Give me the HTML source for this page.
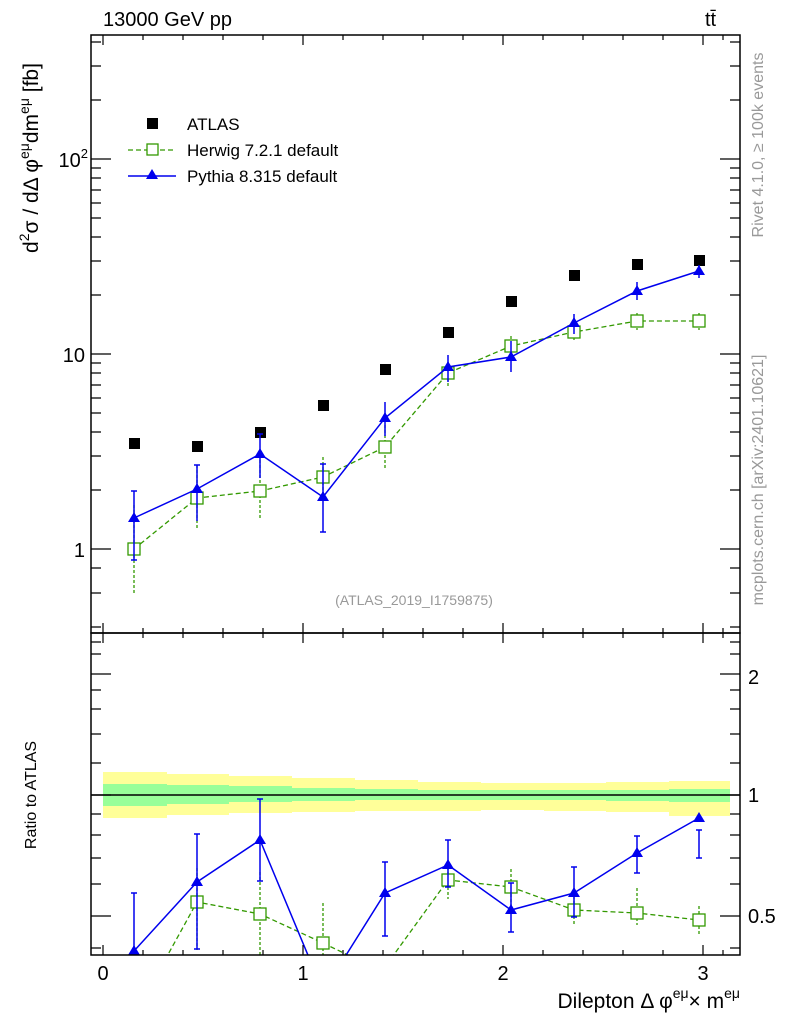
<!DOCTYPE html><html><head><style>body{margin:0;background:#fff}svg{display:block}text{font-family:"Liberation Sans",sans-serif}</style></head><body>
<svg width="786" height="1024" xmlns="http://www.w3.org/2000/svg">
<defs><clipPath id="cr"><rect x="91" y="634" width="649" height="321"/></clipPath><clipPath id="cm"><rect x="91" y="35" width="649" height="598"/></clipPath></defs>
<text x="103" y="26" font-size="20">13000 GeV pp</text>
<text x="705" y="26" font-size="20">tt̄</text>
<g clip-path="url(#cr)">
<path d="M103,772H167V774H229V776H292V778H355V780H418V782H481V783H544V783H606V782H669V781H730V816H669V812H606V811H544V810H481V811H418V811H355V812H292V813H229V815H167V818H103Z" fill="#ffff99"/>
<path d="M103,784H167V785H229V786H292V788H355V789H418V790H481V790H544V790H606V790H669V789H730V802H669V801H606V800H544V800H481V800H418V800H355V801H292V802H229V804H167V806H103Z" fill="#99ff99"/>
<line x1="91" y1="795" x2="740" y2="795" stroke="#000" stroke-width="1.5"/>
<g stroke="#339900" stroke-width="1.3" fill="none">
<polyline stroke-dasharray="5,3" points="165,960 197,902 260,914 323,943 354,958 390,960 448,880 511,887 574,910 637,913 699,920"/>
<path stroke-dasharray="3,2" d="M197,868V950M260,872V960M323,903V960M448,862V899M511,869V905M574,896V925M637,888V925M699,906V935"/>
<rect x="191" y="896" width="12" height="12" fill="#fff"/><rect x="254" y="908" width="12" height="12" fill="#fff"/><rect x="317" y="937" width="12" height="12" fill="#fff"/><rect x="442" y="874" width="12" height="12" fill="#fff"/><rect x="505" y="881" width="12" height="12" fill="#fff"/><rect x="568" y="904" width="12" height="12" fill="#fff"/><rect x="631" y="907" width="12" height="12" fill="#fff"/><rect x="693" y="914" width="12" height="12" fill="#fff"/>
</g>
<g stroke="#0000ee" stroke-width="1.5" fill="none">
<polyline points="134,951 197,882 260,840 310,960"/><polyline points="343,960 385,893 448,865 511,910 574,893 637,853 699,818"/>
<path d="M134,893V960M197,834V949M260,799V881M385,862V936M448,840V887M511,883V932M574,867V917M637,836V873M699,830V858M131,893h6M194,834h6M257,799h6M382,862h6M445,840h6M508,883h6M571,867h6M634,836h6M696,830h6M194,949h6M257,881h6M382,936h6M445,887h6M508,932h6M571,917h6M634,873h6M696,858h6"/>
</g>
<g fill="#0000ee"><path d="M134,945l6,10h-12z"/><path d="M197,876l6,10h-12z"/><path d="M260,834l6,10h-12z"/><path d="M385,887l6,10h-12z"/><path d="M448,859l6,10h-12z"/><path d="M511,904l6,10h-12z"/><path d="M574,887l6,10h-12z"/><path d="M637,847l6,10h-12z"/><path d="M699,812l6,10h-12z"/></g>
</g>
<g clip-path="url(#cm)">
<g fill="#000"><rect x="129" y="438" width="11" height="11"/><rect x="192" y="441" width="11" height="11"/><rect x="255" y="427" width="11" height="11"/><rect x="318" y="400" width="11" height="11"/><rect x="380" y="364" width="11" height="11"/><rect x="443" y="327" width="11" height="11"/><rect x="506" y="296" width="11" height="11"/><rect x="569" y="270" width="11" height="11"/><rect x="632" y="259" width="11" height="11"/><rect x="694" y="255" width="11" height="11"/></g>
<g stroke="#339900" stroke-width="1.3" fill="none">
<polyline stroke-dasharray="5,3" points="134,549 197,498 260,491 323,477 385,447 448,373 511,346 574,332 637,321 699,321"/>
<path stroke-dasharray="3,2" d="M134,505V594M197,465V528M260,455V520M323,457V497M385,425V469M448,363V386M511,336V355M574,322V341M637,313V330M699,313V330"/>
<rect x="128" y="543" width="12" height="12" fill="#fff"/><rect x="191" y="492" width="12" height="12" fill="#fff"/><rect x="254" y="485" width="12" height="12" fill="#fff"/><rect x="317" y="471" width="12" height="12" fill="#fff"/><rect x="379" y="441" width="12" height="12" fill="#fff"/><rect x="442" y="367" width="12" height="12" fill="#fff"/><rect x="505" y="340" width="12" height="12" fill="#fff"/><rect x="568" y="326" width="12" height="12" fill="#fff"/><rect x="631" y="315" width="12" height="12" fill="#fff"/><rect x="693" y="315" width="12" height="12" fill="#fff"/>
</g>
<g stroke="#0000ee" stroke-width="1.5" fill="none">
<polyline points="134,518 197,489 260,454 323,497 385,418 448,367 511,357 574,323 637,291 699,271"/>
<path d="M134,491V560M197,465V521M260,434V478M323,464V532M385,402V436M448,355V382M511,341V372M574,314V334M637,282V300M699,265V278M131,491h6M194,465h6M257,434h6M320,464h6M320,532h6M131,560h6"/>
</g>
<g fill="#0000ee"><path d="M134,512l6,10h-12z"/><path d="M197,483l6,10h-12z"/><path d="M260,448l6,10h-12z"/><path d="M323,491l6,10h-12z"/><path d="M385,412l6,10h-12z"/><path d="M448,361l6,10h-12z"/><path d="M511,351l6,10h-12z"/><path d="M574,317l6,10h-12z"/><path d="M637,285l6,10h-12z"/><path d="M699,265l6,10h-12z"/></g>
</g>
<text x="414" y="605" font-size="14" fill="#999" text-anchor="middle">(ATLAS_2019_I1759875)</text>
<rect x="147" y="118" width="11" height="11"/><text x="187" y="130" font-size="17">ATLAS</text>
<line x1="128" y1="150" x2="176" y2="150" stroke="#339900" stroke-dasharray="5,3" stroke-width="1.3"/><rect x="147" y="144" width="11" height="11" fill="#fff" stroke="#339900" stroke-width="1.3"/><text x="187" y="156" font-size="17">Herwig 7.2.1 default</text>
<line x1="128" y1="176" x2="176" y2="176" stroke="#0000ee" stroke-width="1.5"/><path d="M152,169l6,10h-12z" fill="#0000ee"/><text x="187" y="182" font-size="17">Pythia 8.315 default</text>
<rect x="91" y="35" width="649" height="598" fill="none" stroke="#000" stroke-width="1.5"/>
<rect x="91" y="633" width="649" height="322" fill="none" stroke="#000" stroke-width="1.5"/>
<g stroke="#000" stroke-width="1.2">
<path d="M103,35v10M303,35v10M503,35v10M703,35v10M103,633v-10M303,633v-10M503,633v-10M703,633v-10M103,633v10M303,633v10M503,633v10M703,633v10M103,955v-10M303,955v-10M503,955v-10M703,955v-10"/>
<path d="M143,35v5M183,35v5M223,35v5M263,35v5M343,35v5M383,35v5M423,35v5M463,35v5M543,35v5M583,35v5M623,35v5M663,35v5M143,633v-5M183,633v-5M223,633v-5M263,633v-5M343,633v-5M383,633v-5M423,633v-5M463,633v-5M543,633v-5M583,633v-5M623,633v-5M663,633v-5M143,633v5M183,633v5M223,633v5M263,633v5M343,633v5M383,633v5M423,633v5M463,633v5M543,633v5M583,633v5M623,633v5M663,633v5M143,955v-5M183,955v-5M223,955v-5M263,955v-5M343,955v-5M383,955v-5M423,955v-5M463,955v-5M543,955v-5M583,955v-5M623,955v-5M663,955v-5M723,35v5M723,633v-5M723,633v5M723,955v-5"/>
<path d="M91,549h20M91,354h20M91,159h20M740,549h-20M740,354h-20M740,159h-20"/>
<path d="M91,627h10M91,593h10M91,568h10M91,490h10M91,456h10M91,432h10M91,413h10M91,398h10M91,385h10M91,373h10M91,363h10M91,295h10M91,261h10M91,237h10M91,218h10M91,203h10M91,190h10M91,178h10M91,168h10M91,100h10M91,66h10M91,42h10M740,627h-10M740,593h-10M740,568h-10M740,490h-10M740,456h-10M740,432h-10M740,413h-10M740,398h-10M740,385h-10M740,373h-10M740,363h-10M740,295h-10M740,261h-10M740,237h-10M740,218h-10M740,203h-10M740,190h-10M740,178h-10M740,168h-10M740,100h-10M740,66h-10M740,42h-10"/>
<path d="M91,916h20M91,795h20M91,674h20M740,916h-20M740,795h-20M740,674h-20"/>
<path d="M91,948h10M91,884h10M91,858h10M91,835h10M91,814h10M91,763h10M91,734h10M91,709h10M91,690h10M91,654h10M91,642h10M740,948h-10M740,884h-10M740,858h-10M740,835h-10M740,814h-10M740,763h-10M740,734h-10M740,709h-10M740,690h-10M740,654h-10M740,642h-10"/>
</g>
<g font-size="20" text-anchor="end"><text x="85" y="557">1</text><text x="85" y="362">10</text><text x="88" y="167">10<tspan font-size="13" dy="-9">2</tspan></text></g>
<g font-size="20"><text x="748" y="684">2</text><text x="748" y="802">1</text><text x="748" y="923">0.5</text></g>
<g font-size="20" text-anchor="middle"><text x="103" y="980">0</text><text x="303" y="980">1</text><text x="503" y="980">2</text><text x="703" y="980">3</text></g>
<text x="740" y="1008" font-size="21" text-anchor="end">Dilepton Δ φ<tspan font-size="14" dy="-10">eμ</tspan><tspan dy="10">× m</tspan><tspan font-size="14" dy="-10">eμ</tspan></text>
<text transform="translate(38,158) rotate(-90)" font-size="21" text-anchor="middle">d<tspan font-size="14" dy="-9">2</tspan><tspan dy="9">σ / dΔ φ</tspan><tspan font-size="14" dy="-9">eμ</tspan><tspan dy="9">dm</tspan><tspan font-size="14" dy="-9">eμ</tspan><tspan dy="9"> [fb]</tspan></text>
<text transform="translate(36,795) rotate(-90)" font-size="16" text-anchor="middle">Ratio to ATLAS</text>
<text transform="translate(763,145) rotate(-90)" font-size="16" fill="#999" text-anchor="middle">Rivet 4.1.0, ≥ 100k events</text>
<text transform="translate(763,480) rotate(-90)" font-size="16" fill="#999" text-anchor="middle">mcplots.cern.ch [arXiv:2401.10621]</text>
</svg></body></html>
